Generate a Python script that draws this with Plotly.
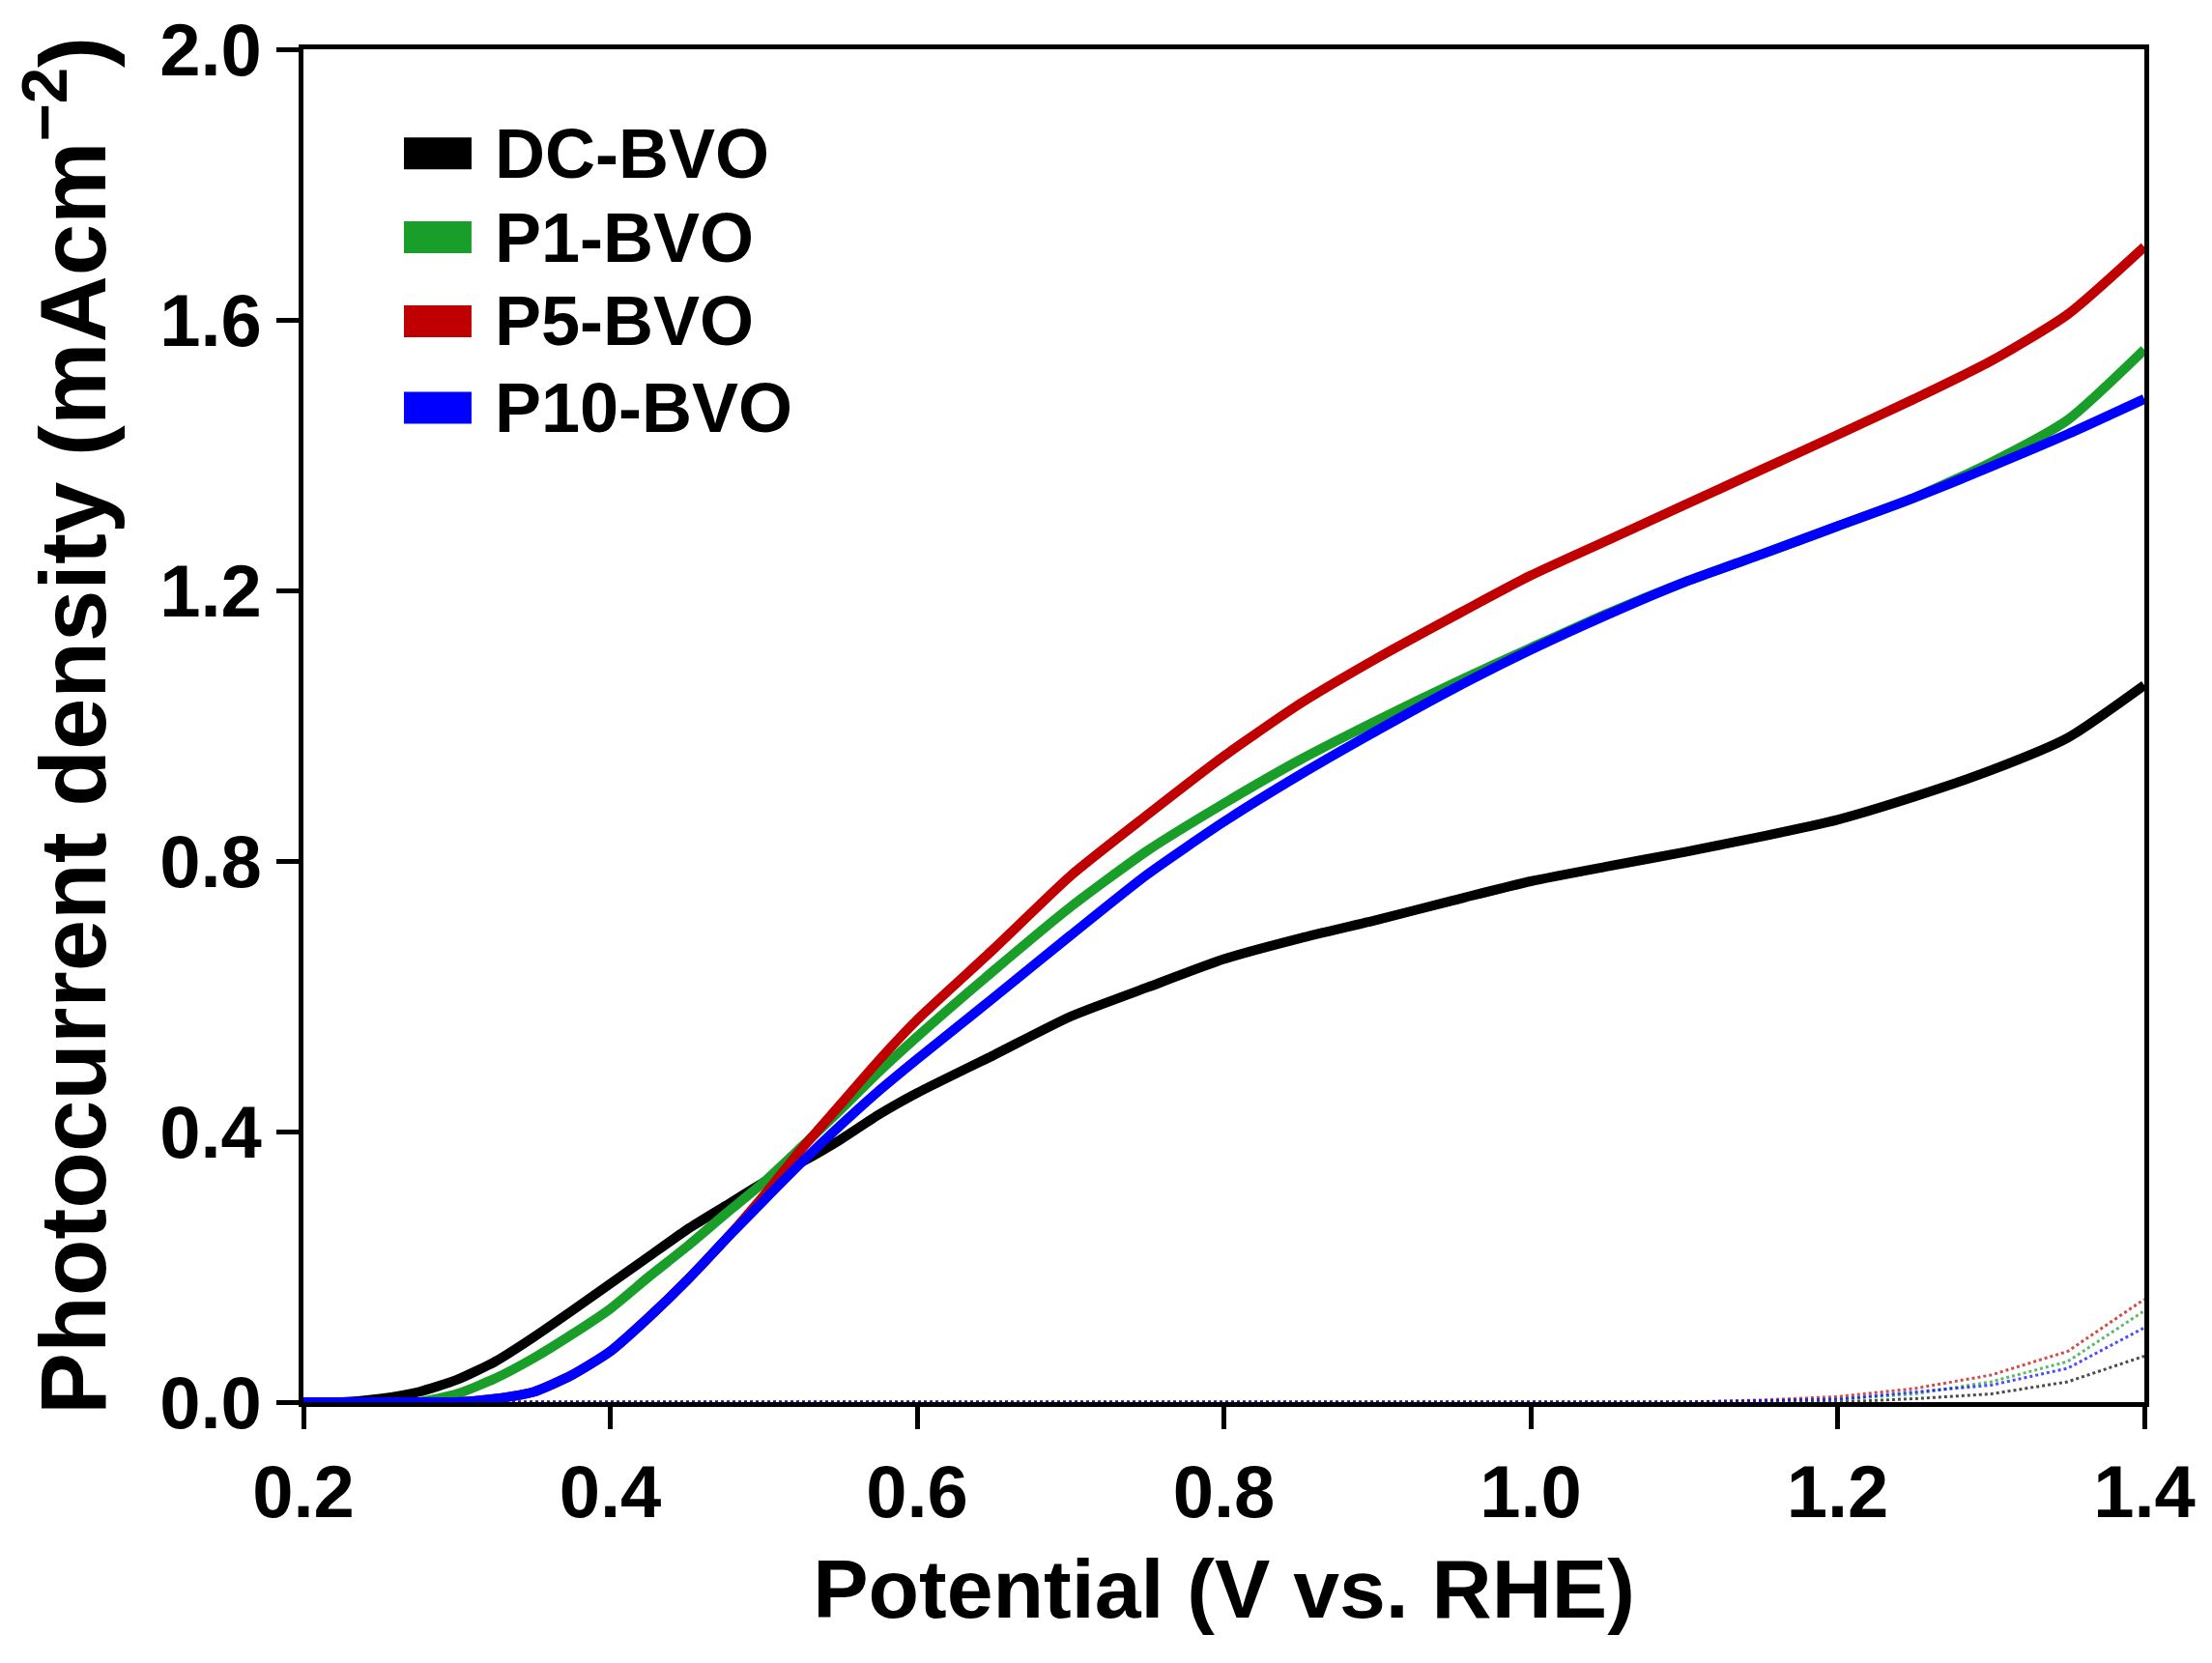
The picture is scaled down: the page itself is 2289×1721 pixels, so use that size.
import plotly.graph_objects as go

# Potential (V vs. RHE)
potential = [0.20, 0.225, 0.25, 0.275, 0.30, 0.325, 0.35, 0.375, 0.40, 0.425, 0.45, 0.475,
             0.50, 0.525, 0.55, 0.575, 0.60, 0.65, 0.70, 0.75, 0.80, 0.85, 0.90, 0.95,
             1.00, 1.05, 1.10, 1.15, 1.20, 1.25, 1.30, 1.35, 1.40]

# photocurrent under illumination (mA cm-2)
dc_bvo = [0.0, 0.0, 0.005, 0.015, 0.033, 0.060, 0.096, 0.135, 0.175, 0.215, 0.255, 0.290,
          0.325, 0.355, 0.388, 0.425, 0.457, 0.513, 0.570, 0.613, 0.655, 0.686, 0.713, 0.742,
          0.770, 0.792, 0.813, 0.836, 0.861, 0.895, 0.934, 0.982, 1.060]
p1_bvo = [0.0, 0.0, 0.0, 0.0, 0.012, 0.035, 0.065, 0.100, 0.138, 0.185, 0.230, 0.278,
          0.325, 0.378, 0.432, 0.488, 0.540, 0.638, 0.732, 0.815, 0.885, 0.950, 1.008, 1.063,
          1.115, 1.166, 1.212, 1.253, 1.295, 1.337, 1.389, 1.452, 1.556]
p5_bvo = [0.0, 0.0, 0.0, 0.0, 0.0, 0.005, 0.015, 0.040, 0.075, 0.125, 0.180, 0.240,
          0.305, 0.375, 0.440, 0.505, 0.565, 0.670, 0.778, 0.868, 0.955, 1.033, 1.100, 1.162,
          1.222, 1.274, 1.326, 1.378, 1.430, 1.483, 1.539, 1.608, 1.708]
p10_bvo = [0.0, 0.0, 0.0, 0.0, 0.0, 0.005, 0.015, 0.040, 0.075, 0.125, 0.180, 0.240,
           0.298, 0.355, 0.409, 0.460, 0.507, 0.598, 0.690, 0.780, 0.858, 0.928, 0.993, 1.055,
           1.112, 1.164, 1.212, 1.253, 1.295, 1.337, 1.383, 1.431, 1.483]

# dark current
dark_potential = [0.20, 0.40, 0.60, 0.80, 1.00, 1.10, 1.15, 1.20, 1.25, 1.30, 1.35, 1.40]
dc_dark = [0.0, 0.0, 0.0, 0.0, 0.0, 0.0, 0.0, 0.0, 0.005, 0.012, 0.030, 0.068]
p1_dark = [0.0, 0.0, 0.0, 0.0, 0.0, 0.0, 0.002, 0.004, 0.012, 0.030, 0.060, 0.135]
p5_dark = [0.0, 0.0, 0.0, 0.0, 0.0, 0.0, 0.003, 0.008, 0.020, 0.040, 0.075, 0.152]
p10_dark = [0.0, 0.0, 0.0, 0.0, 0.0, 0.0, 0.002, 0.004, 0.015, 0.025, 0.050, 0.110]

names = ['DC-BVO', 'P1-BVO', 'P5-BVO', 'P10-BVO']
colors = ['#000000', '#1a9e2a', '#c00000', '#0000ff']
light = [dc_bvo, p1_bvo, p5_bvo, p10_bvo]
dark = [dc_dark, p1_dark, p5_dark, p10_dark]

font = 'Liberation Sans, Arial, sans-serif'

fig = go.Figure()
for name, col, d in zip(names, colors, dark):
    fig.add_trace(go.Scatter(x=dark_potential, y=d, mode='lines', name=name + ' dark',
                             line=dict(color=col, width=3, dash='dot'),
                             opacity=0.7, showlegend=False))
for name, col, d in zip(names, colors, light):
    fig.add_trace(go.Scatter(x=potential, y=d, mode='lines', name=name,
                             line=dict(color=col, width=10, shape='spline', smoothing=0.6),
                             showlegend=False))

# legend: colour swatches (shapes) + labels (annotations), in paper coordinates
legend_y = [0.923, 0.861, 0.799, 0.735]
for name, col, ly in zip(names, colors, legend_y):
    fig.add_shape(type='rect', xref='paper', yref='paper',
                  x0=0.0546, x1=0.0913, y0=ly - 0.0118, y1=ly + 0.0118,
                  fillcolor=col, line=dict(width=0))
    fig.add_annotation(xref='paper', yref='paper', x=0.103, y=ly, xanchor='left', yanchor='middle',
                       text='<b>%s</b>' % name, showarrow=False,
                       font=dict(family=font, size=72, color='black'))

axis_common = dict(
    showline=True, linecolor='black', linewidth=5, mirror=True,
    ticks='outside', ticklen=23, tickwidth=5, tickcolor='black',
    showgrid=False, zeroline=False, ticklabeloverflow='allow', automargin=False,
    tickfont=dict(family=font, size=76, color='black', weight='bold'),
)

fig.update_layout(
    width=2273, height=1705,
    paper_bgcolor='white', plot_bgcolor='white',
    margin=dict(l=306, r=62, t=43, b=262),
    xaxis=dict(range=[0.2, 1.4], tickmode='linear', tick0=0.2, dtick=0.2, tickformat='.1f',
               title=dict(text='<b>Potential (V vs. RHE)</b>', standoff=30,
                          font=dict(family=font, size=86, color='black')),
               **axis_common),
    yaxis=dict(range=[0, 2.0], tickmode='linear', tick0=0, dtick=0.4, tickformat='.1f',
               title=dict(text='<b>Photocurrent density (mAcm<sup>\u22122</sup>)</b>', standoff=40,
                          font=dict(family=font, size=96, color='black')),
               **axis_common),
    showlegend=False,
)

fig.write_html('out.html')
